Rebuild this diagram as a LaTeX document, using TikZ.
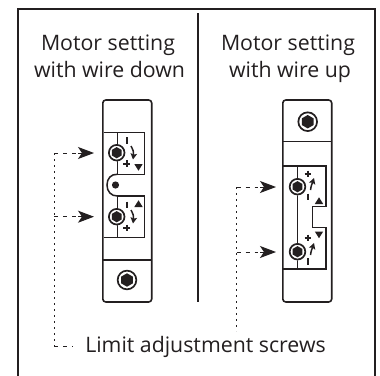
\documentclass[tikz,border=0pt]{standalone}
\usepackage{fontspec}
\setmainfont{Open Sans}
\usetikzlibrary{arrows.meta}
\definecolor{ink}{HTML}{231F20}
\tikzset{
  x=1pt,y=-1pt,
  body/.style={draw=ink,line width=1.6pt,rounded corners=3pt},
  ln/.style={draw=ink,line width=1.5pt},
  lbl/.style={font=\fontsize{21.3}{25}\selectfont,text=ink,inner sep=0pt,anchor=base},
  lead/.style={draw=ink,line width=1pt,dash pattern=on 2pt off 4pt},
  lead2/.style={draw=ink,line width=1pt,dash pattern=on 4pt off 5pt},
  pointer/.style={-{Stealth[length=16pt,width=12pt,inset=4pt]},draw=ink,line width=1pt},
  small/.style={draw=ink,line width=1.5pt,-{Stealth[length=6pt,width=6.5pt,inset=1.2pt]}},
  sym/.style={draw=ink,line width=2pt},
}
\newcommand{\hexscrew}[3]{% centre x, y, scale
  \begin{scope}[shift={(#1,#2)}]
    \fill[white] (0,0) circle (#3*8.6);
    \draw[ink,line width=1.7pt] (0,0) circle (#3*7.8);
    \fill[ink] (90:#3*5.6)--(30:#3*5.6)--(-30:#3*5.6)--(-90:#3*5.6)--(-150:#3*5.6)--(150:#3*5.6)--cycle;
  \end{scope}}
\newcommand{\plusat}[2]{\draw[sym] (#1-3.3,#2)--(#1+3.3,#2) (#1,#2-3.3)--(#1,#2+3.3);}
\newcommand{\minusat}[2]{\draw[sym] (#1,#2-3.3)--(#1,#2+3.3);}
\newcommand{\tridown}[2]{\fill[ink] (#1-4.2,#2-3)--(#1+4.2,#2-3)--(#1,#2+3.7)--cycle;}
\newcommand{\triup}[2]{\fill[ink] (#1-4.2,#2+3)--(#1+4.2,#2+3)--(#1,#2-3.7)--cycle;}
\begin{document}
\begin{tikzpicture}
\useasboundingbox (0,0) rectangle (380,375);
\fill[white] (0,0) rectangle (380,375);
% outer frame
\draw[ink,line width=1.4pt] (18,380)--(18,9)--(375,9)--(375,380);
\draw[ink,line width=1.5pt] (198,13)--(198,302);
% headings
\node[lbl] (h1) at (108,50) {Motor setting};
\node[lbl] (h2) at (109.5,77) {with wire down};
\node[lbl] (h3) at (288,50) {Motor setting};
\node[lbl] (h4) at (290,77) {with wire up};
\node[lbl] (h5) at (205.5,352) {Limit adjustment screws};
% left device
\draw[body] (102.8,100) rectangle (151.7,302);
\draw[ln] (103,260)--(151.5,260);
\draw[ln] (103.5,132.7)--(144.3,132.7)--(144.3,174.3)--(117.3,174.3)--(117.3,132.7);
\draw[ln] (103.5,237.7)--(144.3,237.7)--(144.3,196)--(117.3,196)--(117.3,237.7);
\draw[ln] (117.3,174.3) .. controls (111,174) and (107,178.5) .. (107,185) .. controls (107,191.5) and (111,196) .. (117.3,196);
\fill[ink] (115.5,185) circle (3.6);
\hexscrew{116.7}{152.7}{1}
\hexscrew{116.7}{216.7}{1}
\hexscrew{127}{280}{1.2}
\minusat{126.5}{140.5}\plusat{126.5}{163.5}
\draw[small] (131,146) .. controls (133,150) and (134,152) .. (133,159.5);
\tridown{138.5}{167}
\minusat{126.5}{205}\plusat{126.5}{228}
\draw[small] (131,210) .. controls (133,214) and (134,216) .. (133,223.5);
\triup{138.5}{204}
% right device
\draw[body] (282.8,100) rectangle (331.7,302);
\draw[ln] (283,141.7)--(331.5,141.7);
\draw[ln] (283,166)--(326,166)--(326,206.7)--(312.3,206.7)--(312.3,227.7)--(326,227.7)--(326,269)--(283,269);
\draw[ln] (297.4,166)--(297.4,269);
\hexscrew{307.7}{121.7}{1.2}
\hexscrew{297.5}{186.7}{1}
\hexscrew{297.5}{251.7}{1}
\plusat{308}{174}\minusat{308}{197}
\draw[small] (310.5,190) .. controls (311,186) and (312,184) .. (314,178);
\triup{319}{201}
\plusat{308}{238}\minusat{308}{261.5}
\draw[small] (310.5,255) .. controls (311,251) and (312,249) .. (314,243);
\tridown{319}{234.5}
% leaders
\coordinate (la) at (54,153);
\coordinate (lb) at (54,216.7);
\coordinate (lc) at (54,346);
\coordinate (ld) at (73,346);
\coordinate (ra) at (236.7,187);
\coordinate (rb) at (236.7,252);
\coordinate (rc) at (236.7,331);
\coordinate (pa) at (94,153);
\coordinate (pb) at (94,216.7);
\coordinate (qa) at (276,187);
\coordinate (qb) at (276,252);
\draw[lead] (la)--(lc);
\draw[lead2] (lc)--(ld);
\draw[lead] (ra)--(rc);
\draw[lead2] (la)--(76,153);
\draw[lead2] (lb)--(76,216.7);
\draw[lead2] (ra)--(258,187);
\draw[lead2] (rb)--(258,252);
\draw[pointer] (78,153)--(pa);
\draw[pointer] (78,216.7)--(pb);
\draw[pointer] (260,187)--(qa);
\draw[pointer] (260,252)--(qb);
\end{tikzpicture}
\end{document}
